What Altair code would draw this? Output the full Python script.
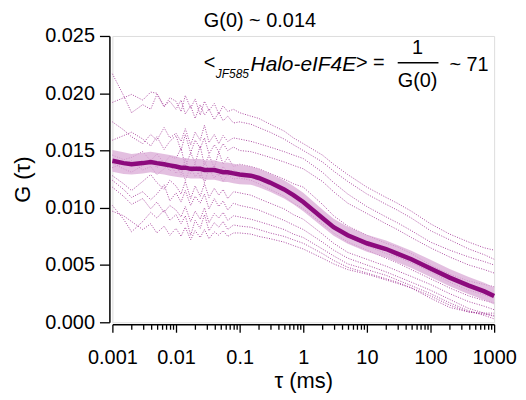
import altair as alt
import pandas as pd

# lag times (ms)
tau_ms = [0.001, 0.0015, 0.002, 0.003, 0.004, 0.005, 0.0065, 0.008, 0.01,
          0.012, 0.014, 0.017, 0.02, 0.024, 0.028, 0.033, 0.04, 0.047, 0.055, 0.065, 0.08, 0.1,
          0.15, 0.2, 0.3, 0.5, 0.7, 1,
          2, 3, 5, 10, 20, 30, 50, 100, 200, 400, 700, 1000]

# mean G(tau) in units of 1e-3
mean_g = [14.1, 13.9, 13.8, 13.9, 14.0, 13.9, 13.8, 13.7, 13.6,
          13.5, 13.5, 13.4, 13.4, 13.4, 13.3, 13.3, 13.3, 13.2, 13.1, 13.1, 13.0, 12.9,
          12.8, 12.6, 12.2, 11.6, 11.1, 10.5,
          9.1, 8.3, 7.6, 6.9, 6.4, 6.0, 5.5, 4.7, 3.9, 3.2, 2.7, 2.3]

# error band half-width in units of 1e-3
err_g = [0.95, 0.95, 0.9, 0.9, 0.9, 0.9, 0.9, 0.9, 0.9,
         0.85, 0.85, 0.85, 0.85, 0.85, 0.85, 0.85, 0.85, 0.85, 0.85, 0.85, 0.85, 0.85,
         0.8, 0.8, 0.8, 0.8, 0.8, 0.8,
         0.75, 0.75, 0.75, 0.75, 0.75, 0.75, 0.75, 0.75, 0.75, 0.75, 0.75, 0.75]

# individual cell curves in units of 1e-3
c1 = [21.7, 19.8, 18.3, 19.0, 18.6, 19.9, 18.8, 19.6, 19.3,
      18.4, 19.8, 18.7, 19.5, 18.1, 19.3, 18.5, 19.1, 18.2, 18.9, 18.4, 18.6, 18.3,
      18.0, 17.8, 17.3, 16.7, 16.1, 15.6,
      14.6, 13.8, 12.9, 11.8, 10.9, 10.4, 9.7, 8.6, 7.7, 7.0, 6.5, 6.3]
c2 = [19.2, 19.6, 19.9, 19.4, 20.1, 20.0, 18.9, 19.3, 18.6,
      19.4, 18.2, 18.9, 17.8, 19.0, 18.1, 18.6, 17.7, 18.3, 17.6, 18.0, 17.4, 17.5,
      17.3, 17.0, 16.6, 16.0, 15.5, 15.0,
      14.0, 13.2, 12.3, 11.2, 10.3, 9.8, 9.1, 8.0, 7.2, 6.4, 5.9, 5.5]
c3 = [17.5, 16.8, 16.2, 15.6, 16.4, 15.9, 17.0, 16.1, 16.5,
      15.8, 16.9, 15.5, 16.6, 15.9, 17.2, 15.7, 16.4, 15.6, 16.3, 15.8, 16.1, 16.0,
      15.8, 15.6, 15.3, 14.9, 14.6, 14.3,
      13.1, 12.2, 11.2, 10.1, 9.2, 8.7, 8.0, 7.0, 6.3, 5.7, 5.3, 5.0]
c4 = [15.9, 16.3, 16.6, 16.0, 15.4, 16.2, 15.1, 15.8, 16.3,
      15.0, 16.4, 14.8, 15.9, 15.2, 16.1, 14.7, 15.5, 14.9, 15.6, 15.0, 15.3, 15.0,
      14.9, 14.7, 14.4, 14.0, 13.7, 13.4,
      12.3, 11.4, 10.4, 9.5, 8.6, 8.1, 7.4, 6.5, 5.7, 5.0, 4.6, 4.3]
c5 = [14.6, 14.2, 14.4, 14.9, 14.1, 14.7, 13.9, 14.5, 14.3,
      15.2, 13.6, 14.8, 13.9, 15.4, 13.7, 14.6, 13.5, 14.9, 13.8, 14.4, 13.6, 13.8,
      13.6, 13.4, 13.0, 12.5, 12.1, 11.8,
      10.3, 9.3, 8.4, 7.6, 6.9, 6.6, 6.0, 5.0, 4.2, 3.6, 3.3, 3.1]
c6 = [13.9, 13.4, 13.1, 13.7, 14.2, 13.5, 14.0, 13.2, 13.8,
      12.9, 14.3, 13.0, 13.9, 12.6, 14.1, 13.2, 13.7, 12.8, 13.6, 13.1, 13.3, 13.0,
      12.8, 12.6, 12.2, 11.6, 11.0, 10.5,
      9.1, 8.3, 7.4, 6.7, 6.0, 5.7, 5.2, 4.4, 3.5, 2.8, 2.4, 2.1]
c7 = [13.5, 13.9, 14.1, 13.3, 13.6, 12.9, 13.4, 13.8, 13.0,
      13.5, 12.4, 13.6, 12.7, 13.3, 12.2, 13.4, 12.6, 13.1, 12.3, 12.9, 12.5, 12.6,
      12.4, 12.1, 11.6, 11.0, 10.4, 9.9,
      8.6, 7.8, 7.0, 6.3, 5.6, 5.2, 4.6, 3.8, 3.0, 2.3, 1.9, 1.7]
c8 = [12.8, 12.1, 11.5, 12.3, 12.9, 12.2, 11.6, 12.4, 11.9,
      11.2, 12.3, 10.8, 11.9, 11.0, 12.1, 10.9, 11.7, 11.1, 11.6, 10.8, 11.4, 11.3,
      11.1, 10.8, 10.4, 9.9, 9.4, 9.0,
      7.7, 6.9, 6.1, 5.5, 4.9, 4.5, 4.0, 3.3, 2.5, 1.8, 1.4, 1.1]
c9 = [12.4, 11.6, 10.9, 11.4, 10.7, 11.2, 12.0, 10.6, 11.3,
      10.5, 11.5, 10.2, 11.0, 10.4, 11.2, 9.9, 10.8, 10.1, 10.6, 9.8, 10.4, 10.2,
      10.0, 9.8, 9.4, 8.9, 8.5, 8.1,
      7.0, 6.3, 5.6, 5.0, 4.4, 4.0, 3.5, 2.8, 2.0, 1.2, 0.8, 0.5]
c10 = [11.8, 11.0, 10.3, 10.8, 9.9, 10.5, 9.6, 10.2, 9.8,
       9.2, 10.1, 8.8, 9.7, 9.0, 10.0, 8.7, 9.5, 9.1, 9.6, 8.9, 9.3, 9.2,
       9.0, 8.8, 8.5, 8.1, 7.7, 7.4,
       6.4, 5.8, 5.1, 4.6, 4.1, 3.7, 3.2, 2.5, 1.7, 1.0, 0.6, 0.3]
c11 = [10.2, 9.0, 7.9, 8.8, 9.6, 9.1, 9.8, 8.9, 9.4,
       8.6, 9.3, 7.6, 8.9, 8.2, 9.4, 8.0, 8.7, 8.3, 8.8, 8.1, 8.5, 8.4,
       8.3, 8.1, 7.8, 7.5, 7.2, 6.9,
       6.0, 5.4, 4.8, 4.3, 3.8, 3.5, 3.0, 2.3, 1.5, 0.9, 0.7, 0.6]
c12 = [9.7, 9.3, 8.8, 8.1, 8.6, 7.8, 8.4, 7.6, 8.2,
       7.5, 8.3, 7.2, 8.0, 7.4, 8.1, 7.3, 7.9, 7.6, 8.0, 7.5, 7.8, 7.8,
       7.7, 7.5, 7.3, 7.0, 6.7, 6.4,
       5.6, 5.1, 4.6, 4.2, 3.7, 3.4, 3.0, 2.1, 1.3, 0.9, 0.8, 0.8]

curves = [c1, c2, c3, c4, c5, c6, c7, c8, c9, c10, c11, c12]

y_ticks = [0.0, 0.005, 0.010, 0.015, 0.020, 0.025]
x_ticks = [m * 10 ** e for e in range(-3, 3) for m in range(1, 10)] + [1000]

rows = []
for ci, c in enumerate(curves):
    for t, g in zip(tau_ms, c):
        rows.append({"tau": t, "G": g * 1e-3, "cell": f"cell{ci + 1}"})
cells_df = pd.DataFrame(rows)

mean_df = pd.DataFrame({
    "tau": tau_ms,
    "G": [g * 1e-3 for g in mean_g],
    "lo": [(g - e) * 1e-3 for g, e in zip(mean_g, err_g)],
    "hi": [(g + e) * 1e-3 for g, e in zip(mean_g, err_g)],
})

FONT = "Liberation Sans"
major_test = "abs(log(datum.value)/LN10 - round(log(datum.value)/LN10)) < 1e-6"

xscale = alt.Scale(type="log", domain=[0.001, 1000], nice=False)
yscale = alt.Scale(domain=[0, 0.025], nice=False, zero=False)

xaxis = alt.Axis(
    values=x_ticks, title="τ (ms)", labelOverlap=False, labelFlush=False,
    labelExpr=f"({major_test}) ? format(datum.value, '~g') : ''",
    tickSize={"condition": {"test": major_test, "value": 8}, "value": 5},
    tickColor="black", tickWidth=1.3, domainColor="black", domainWidth=1.5,
    labelFont=FONT, labelFontSize=20, labelColor="black", labelPadding=15,
    titleFont=FONT, titleFontSize=22, titleFontWeight="normal", titleColor="black",
    titleX=192, titleY=47, offset=2, grid=False,
)
yaxis = alt.Axis(
    values=y_ticks, format=".3f", title="G (τ)", labelOverlap=False, labelFlush=False,
    tickSize=10, tickColor="black", tickWidth=1.3, domainColor="black", domainWidth=1.5,
    labelFont=FONT, labelFontSize=20, labelColor="black", labelPadding=5,
    titleFont=FONT, titleFontSize=22, titleFontWeight="normal", titleColor="black",
    titleX=-75, titleY=144, offset=3, grid=False,
)

cells = alt.Chart(cells_df).mark_line(
    color="#9c2a90", strokeWidth=1, strokeDash=[1, 1.5], opacity=0.85
).encode(
    x=alt.X("tau:Q", scale=xscale, axis=xaxis),
    y=alt.Y("G:Q", scale=yscale, axis=yaxis),
    detail="cell:N",
)

band = alt.Chart(mean_df).mark_area(color="#d9a9d6", opacity=0.75).encode(
    x=alt.X("tau:Q", scale=xscale),
    y=alt.Y("lo:Q", scale=yscale),
    y2="hi:Q",
)

mean_line = alt.Chart(mean_df).mark_line(color="#8c0a7d", strokeWidth=4.5).encode(
    x=alt.X("tau:Q", scale=xscale),
    y=alt.Y("G:Q", scale=yscale),
)

def label(text, x, y, size=20, italic=False, align="left"):
    return alt.Chart(pd.DataFrame({"t": [text]})).mark_text(
        font=FONT, fontSize=size, fontStyle="italic" if italic else "normal",
        align=align, baseline="alphabetic", color="black",
    ).encode(text="t:N", x=alt.value(x), y=alt.value(y))

ann = [
    label("G(0) ~ 0.014", 92, -9),
    label("<", 92, 33),
    label("JF585", 104, 42, size=12, italic=True),
    label("Halo-eIF4E", 139, 35, size=21, italic=True),
    label("> =", 245, 33),
    label("1", 307, 18, align="center"),
    label("G(0)", 307, 51, align="center"),
    label("~ 71", 339, 35),
]
frac = alt.Chart(pd.DataFrame({"a": [0]})).mark_rule(color="black", strokeWidth=1.5).encode(
    x=alt.value(287), x2=alt.value(328), y=alt.value(27)
)

chart = alt.layer(cells, band, mean_line, frac, *ann).properties(
    width=384, height=288,
    autosize=alt.AutoSizeParams(type="none"),
    padding={"left": 105, "top": 27, "right": 24, "bottom": 72},
).configure_view(stroke=None).configure(background="white")

chart.save("out.html", embed_options={"renderer": "svg", "actions": False})
